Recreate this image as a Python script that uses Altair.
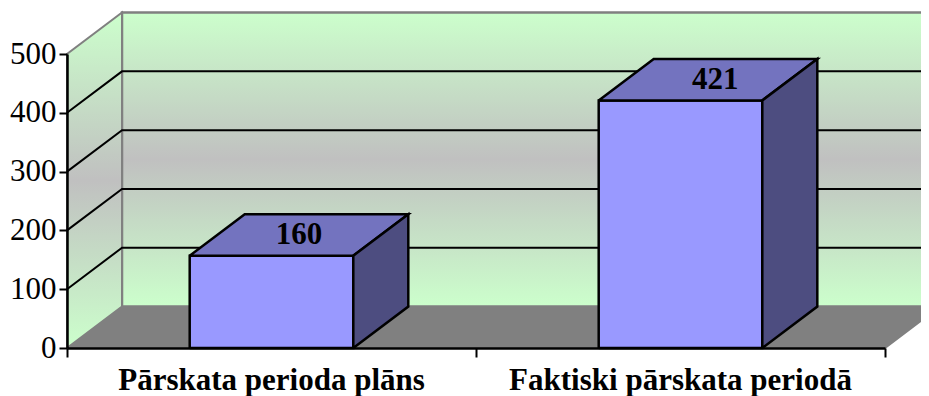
import altair as alt
import pandas as pd

categories = ["Pārskata perioda plāns", "Faktiski pārskata periodā"]
bar_heights = [157, 421]
bar_labels = ["160", "421"]
label_shift = [0.0, 0.018]
y_ticks = [0, 100, 200, 300, 400, 500]
x_ticks = [0, 1, 2]

Y_MAX = 500
DX, DY = 0.1345, 70.5
HALF = 0.2
FONT = "Liberation Serif"

x_enc = alt.X("x:Q", scale=alt.Scale(domain=[0, 2], nice=False, zero=False),
              axis=alt.Axis(values=x_ticks, labels=False, title=None, grid=False, tickSize=9,
                            tickWidth=2, tickColor="black", domainColor="black", domainWidth=2.5, zindex=1))
y_enc = alt.Y("y:Q", scale=alt.Scale(domain=[0, Y_MAX], nice=False),
              axis=alt.Axis(values=y_ticks, title=None, grid=False, tickSize=8, tickWidth=2, tickColor="black",
                            domainColor="black", domainWidth=2.5, labelFont=FONT, labelFontSize=31,
                            labelColor="black", labelPadding=3, zindex=1))


def polys(shapes):
    rows = []
    for sid, pts in enumerate(shapes):
        for i, (x, y) in enumerate(pts):
            rows.append({"s": sid, "i": i, "x": x, "y": y})
    return pd.DataFrame(rows)


def poly_layer(shapes, fill, stroke, sw):
    return alt.Chart(polys(shapes)).mark_line(
        fill=fill, stroke=stroke, strokeWidth=sw, strokeJoin="miter", clip=False
    ).encode(x=x_enc, y=y_enc, detail="s:N", order=alt.Order("i:Q"))


wall_grad = alt.Gradient(
    gradient="linear", x1=0, y1=0, x2=0, y2=1,
    stops=[alt.GradientStop(offset=0, color="#ccffcc"),
           alt.GradientStop(offset=0.5, color="#c0c0c0"),
           alt.GradientStop(offset=1, color="#ccffcc")])

XR = 2 + DX
T = Y_MAX + DY
floor = poly_layer([[(0, 0), (DX, DY), (XR, DY), (2, 0), (0, 0)]], "#808080", "#808080", 2)
back = poly_layer([[(DX, DY), (DX, T), (XR, T), (XR, DY), (DX, DY)]], wall_grad, "#808080", 2.5)
side = poly_layer([[(0, 0), (DX, DY), (DX, T), (0, Y_MAX), (0, 0)]], wall_grad, "#808080", 2)

grid_shapes = []
for v in y_ticks[1:-1]:
    grid_shapes.append([(0, v), (DX, v + DY), (XR, v + DY)])
grid = alt.Chart(polys(grid_shapes)).mark_line(stroke="black", strokeWidth=2).encode(
    x=x_enc, y=y_enc, detail="s:N", order=alt.Order("i:Q"))

fronts, tops, sides = [], [], []
for k, h in enumerate(bar_heights):
    c = k + 0.5
    a, b = c - HALF, c + HALF
    fronts.append([(a, 0), (a, h), (b, h), (b, 0), (a, 0)])
    tops.append([(a, h), (a + DX, h + DY), (b + DX, h + DY), (b, h), (a, h)])
    sides.append([(b, 0), (b, h), (b + DX, h + DY), (b + DX, DY), (b, 0)])

front_l = poly_layer(fronts, "#9999ff", "black", 2.5)
top_l = poly_layer(tops, "#7373bf", "black", 2.5)
side_l = poly_layer(sides, "#4d4d80", "black", 2.5)

val_df = pd.DataFrame({
    "x": [k + 0.5 + DX / 2 + label_shift[k] for k in range(2)],
    "y": [h + DY / 2 for h in bar_heights],
    "t": bar_labels,
})
val_text = alt.Chart(val_df).mark_text(font=FONT, fontSize=31, fontWeight="bold", color="black",
                                       baseline="middle", align="center").encode(x=x_enc, y=y_enc, text="t:N")

cat_df = pd.DataFrame({"x": [k + 0.5 for k in range(2)], "y": [0, 0], "t": categories})
cat_text = alt.Chart(cat_df).mark_text(font=FONT, fontSize=31, fontWeight="bold", color="black",
                                       baseline="middle", align="center", dy=33).encode(x=x_enc, y=y_enc, text="t:N")

chart = alt.layer(floor, back, side, grid, front_l, top_l, side_l, val_text, cat_text).properties(
    width=818, height=294,
    padding={"left": 59, "top": 46, "right": 36, "bottom": 48},
    autosize=alt.AutoSizeParams(type="none"),
    background="white",
).configure_view(stroke=None)

chart.save("out.html", embed_options={"renderer": "svg", "actions": False})
